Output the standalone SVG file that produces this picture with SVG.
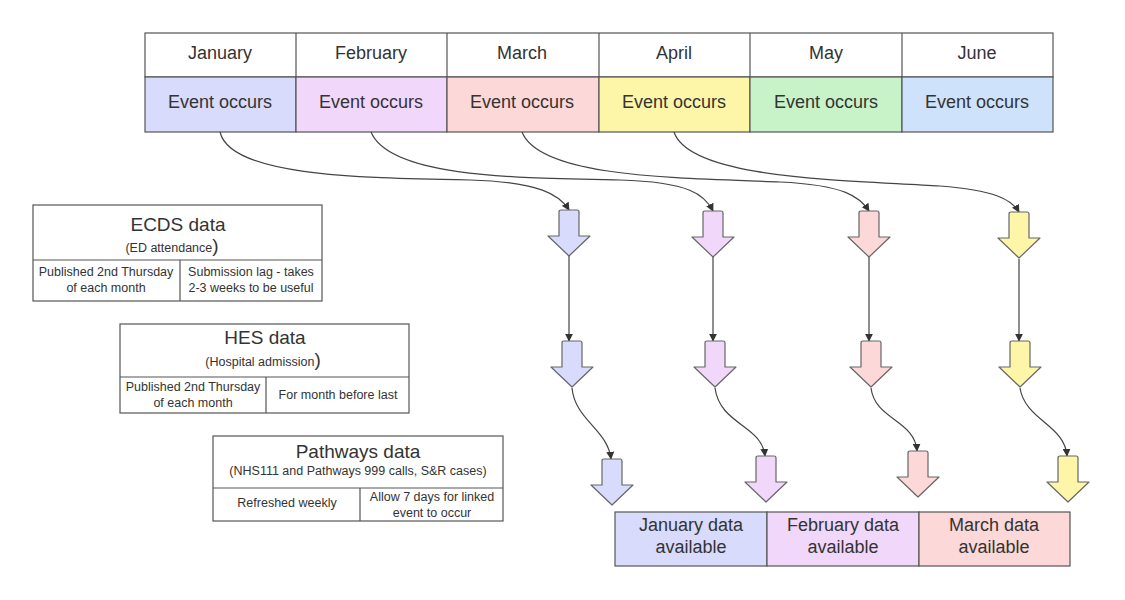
<svg xmlns="http://www.w3.org/2000/svg" xmlns:xlink="http://www.w3.org/1999/xlink" width="1125" height="600" viewBox="0 0 1125 600">
<style>
text{font-family:"Liberation Sans",Arial,sans-serif;fill:#333;text-anchor:middle}
.c{stroke:#555;stroke-width:1.2}
.m{font-size:18px}
.t{font-size:18px}
.h{font-size:19px}
.s{font-size:12.5px}
.k{stroke:#444;stroke-width:1.2;fill:none}
.ba{stroke:#666;stroke-width:1.2;stroke-linejoin:round}
</style>
<defs>
<path id="ba" d="M-10,2 Q-10,0 -8,0 H8 Q10,0 10,2 V26 H21 L0,46 L-21,26 H-10 Z"/>
<marker id="ar" viewBox="0 0 10 10" refX="9" refY="5" markerWidth="8" markerHeight="8" orient="auto-start-reverse" markerUnits="userSpaceOnUse"><path d="M0,0 L10,5 L0,10 Z" fill="#333"/></marker>
</defs>
<rect width="1125" height="600" fill="#fff"/>
<g id="months">
<rect class="c" x="145" y="33" width="908" height="44" fill="#fff"/>
<rect class="c" x="145" y="77" width="151" height="55" fill="#d8dbfb"/>
<rect class="c" x="296" y="77" width="151" height="55" fill="#f1d8fb"/>
<rect class="c" x="447" y="77" width="152" height="55" fill="#fdd8d8"/>
<rect class="c" x="599" y="77" width="151" height="55" fill="#fdf6a8"/>
<rect class="c" x="750" y="77" width="152" height="55" fill="#c8f2c8"/>
<rect class="c" x="902" y="77" width="151" height="55" fill="#cfe2fb"/>
<path class="c" d="M296,33V77M447,33V77M599,33V77M750,33V77M902,33V77"/>
<text class="m" x="220" y="59">January</text><text class="m" x="371" y="59">February</text><text class="m" x="522" y="59">March</text><text class="m" x="674" y="59">April</text><text class="m" x="826" y="59">May</text><text class="m" x="977" y="59">June</text>
<text class="t" x="220" y="108">Event occurs</text><text class="t" x="371" y="108">Event occurs</text><text class="t" x="522" y="108">Event occurs</text><text class="t" x="674" y="108">Event occurs</text><text class="t" x="826" y="108">Event occurs</text><text class="t" x="977" y="108">Event occurs</text>
</g>
<g id="connectors">
<path class="k" marker-end="url(#ar)" d="M220,132 C230,175 350,178 470,180 C540,182 560,195 569,210"/>
<path class="k" marker-end="url(#ar)" d="M371,132 C390,178 520,178 620,180 C690,182 705,195 713,211"/>
<path class="k" marker-end="url(#ar)" d="M522,132 C540,178 680,178 780,182 C845,185 860,197 869,211"/>
<path class="k" marker-end="url(#ar)" d="M674,132 C690,180 850,180 940,186 C995,190 1012,200 1019,212"/>
<path class="k" marker-end="url(#ar)" d="M569,256 V341"/>
<path class="k" marker-end="url(#ar)" d="M713,257 V341"/>
<path class="k" marker-end="url(#ar)" d="M869,257 V341"/>
<path class="k" marker-end="url(#ar)" d="M1019,259 V341"/>
<path class="k" marker-end="url(#ar)" d="M572,388 C575,420 608,430 611,459"/>
<path class="k" marker-end="url(#ar)" d="M715,388 C720,425 762,425 765,456"/>
<path class="k" marker-end="url(#ar)" d="M871,388 C875,420 915,420 917,451"/>
<path class="k" marker-end="url(#ar)" d="M1020,388 C1025,420 1065,425 1067,456"/>
</g>
<g id="arrows">
<use href="#ba" class="ba" fill="#d8dbfb" transform="translate(569,210)"/>
<use href="#ba" class="ba" fill="#f1d8fb" transform="translate(713,211)"/>
<use href="#ba" class="ba" fill="#fdd8d8" transform="translate(869,211)"/>
<use href="#ba" class="ba" fill="#fdf6a8" transform="translate(1019,212)"/>
<use href="#ba" class="ba" fill="#d8dbfb" transform="translate(572,341)"/>
<use href="#ba" class="ba" fill="#f1d8fb" transform="translate(715,341)"/>
<use href="#ba" class="ba" fill="#fdd8d8" transform="translate(871,341)"/>
<use href="#ba" class="ba" fill="#fdf6a8" transform="translate(1020,341)"/>
<use href="#ba" class="ba" fill="#d8dbfb" transform="translate(612,459)"/>
<use href="#ba" class="ba" fill="#f1d8fb" transform="translate(766,456)"/>
<use href="#ba" class="ba" fill="#fdd8d8" transform="translate(918,451)"/>
<use href="#ba" class="ba" fill="#fdf6a8" transform="translate(1068,456)"/>
</g>
<g id="available">
<rect class="c" x="615" y="512" width="152" height="54" fill="#d8dbfb"/>
<rect class="c" x="767" y="512" width="152" height="54" fill="#f1d8fb"/>
<rect class="c" x="919" y="512" width="151" height="54" fill="#fdd8d8"/>
<text class="t" x="691" y="531">January data</text><text class="t" x="691" y="553">available</text>
<text class="t" x="843" y="531">February data</text><text class="t" x="843" y="553">available</text>
<text class="t" x="994" y="531">March data</text><text class="t" x="994" y="553">available</text>
</g>
<g id="ecds">
<rect class="c" x="33" y="205" width="289" height="96" fill="#fff"/>
<path class="c" d="M33,260H322M180,260V301"/>
<text class="h" x="178" y="231">ECDS data</text>
<text class="s" x="172" y="252">(ED attendance<tspan font-size="19">)</tspan></text>
<text class="s" x="106" y="276">Published 2nd Thursday</text><text class="s" x="106" y="292">of each month</text>
<text class="s" x="251" y="276">Submission lag - takes</text><text class="s" x="251" y="292">2-3 weeks to be useful</text>
</g>
<g id="hes">
<rect class="c" x="120" y="324" width="289" height="89" fill="#fff"/>
<path class="c" d="M120,377H409M266,377V413"/>
<text class="h" x="265" y="344">HES data</text>
<text class="s" x="263" y="366">(Hospital admission<tspan font-size="19">)</tspan></text>
<text class="s" x="193" y="391">Published 2nd Thursday</text><text class="s" x="193" y="407">of each month</text>
<text class="s" x="338" y="399">For month before last</text>
</g>
<g id="pathways">
<rect class="c" x="213" y="436" width="290" height="85" fill="#fff"/>
<path class="c" d="M213,488H503M360,488V521"/>
<text class="h" x="358" y="458">Pathways data</text>
<text class="s" x="358" y="475">(NHS111 and Pathways 999 calls, S&amp;R cases)</text>
<text class="s" x="287" y="507">Refreshed weekly</text>
<text class="s" x="432" y="501">Allow 7 days for linked</text><text class="s" x="432" y="517">event to occur</text>
</g>
</svg>
